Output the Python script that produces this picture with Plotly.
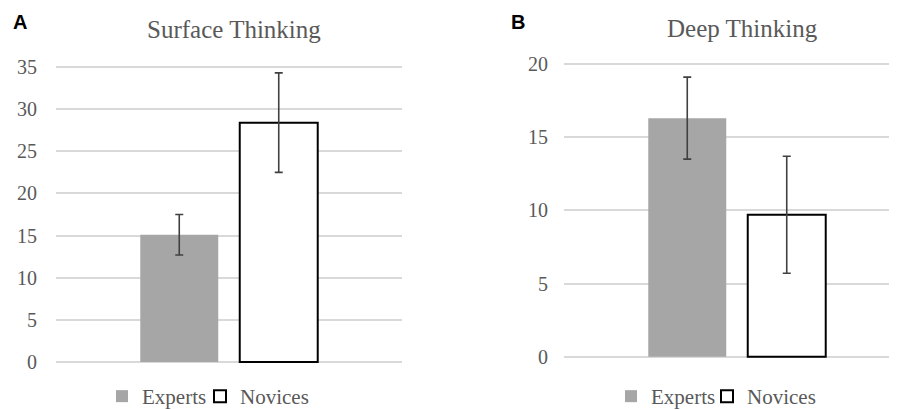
import plotly.graph_objects as go

groups = ["Experts", "Novices"]
surface_means = [15.1, 28.4]
surface_err = [2.4, 5.9]
deep_means = [16.3, 9.7]
deep_err = [2.8, 4.0]
surface_ticks = [0, 5, 10, 15, 20, 25, 30, 35]
deep_ticks = [0, 5, 10, 15, 20]

# the page body adds an 8px offset, so the figure is drawn 8px smaller
OFF = 8
W, H = 897 - OFF, 410 - OFF
FONT = "Liberation Serif"
TXT = "#595959"
fills = ["#a6a6a6", "#ffffff"]
lines = ["#a6a6a6", "#000000"]

def label(name):
    return '<span style="font-family:\'Liberation Serif\', \'Times New Roman\', serif">%s</span>' % name

fig = go.Figure()
for i, g in enumerate(groups):
    fig.add_trace(go.Bar(
        x=[0], y=[surface_means[i]], name=label(g), xaxis="x", yaxis="y",
        marker=dict(color=fills[i], line=dict(color=lines[i], width=2 if i else 0)),
        error_y=dict(type="data", array=[surface_err[i]], color="#404040", thickness=1.6, width=4),
        legend="legend" if i == 0 else "legend2", offsetgroup=str(i)))
for i, g in enumerate(groups):
    fig.add_trace(go.Bar(
        x=[0], y=[deep_means[i]], name=label(g), xaxis="x2", yaxis="y2",
        marker=dict(color=fills[i], line=dict(color=lines[i], width=2 if i else 0)),
        error_y=dict(type="data", array=[deep_err[i]], color="#404040", thickness=1.6, width=4),
        legend="legend3" if i == 0 else "legend4", offsetgroup=str(i)))

def px_x(p):
    return (p - OFF) / W

def px_y(p):
    return (H - (p - OFF)) / H

# panel A: 0 at y=362, 35 at y=67
sa = (362 - 67) / 35.0
ra = [-0.3, 35.5]
dom_a = [px_y(362 - ra[0] * sa), px_y(362 - ra[1] * sa)]
# panel B: 0 at y=356.7, 20 at y=64
sb = (356.7 - 64) / 20.0
rb = [-0.2, 20.3]
dom_b = [px_y(356.7 - rb[0] * sb), px_y(356.7 - rb[1] * sb)]

plot_w = 346.0
xb_left = 564.0
xb_range = [-0.5, -0.5 + (897 - xb_left) / plot_w]

axis_common = dict(showline=False, zeroline=False, showgrid=True, gridcolor="#d9d9d9", gridwidth=1.5,
                   tickfont=dict(family=FONT, size=20, color=TXT), fixedrange=True, automargin=False)

legend_common = dict(orientation="h", xanchor="left", y=px_y(396.5), yanchor="middle",
                     font=dict(family=FONT, size=21, color=TXT), bgcolor="rgba(0,0,0,0)")

fig.update_layout(
    width=W, height=H,
    margin=dict(l=0, r=0, t=0, b=0, autoexpand=False),
    font=dict(family=FONT, color=TXT),
    paper_bgcolor="white", plot_bgcolor="white",
    barmode="group", bargap=0.425, bargroupgap=0.216,
    showlegend=True,
    xaxis=dict(domain=[px_x(56), px_x(402)], range=[-0.5, 0.5], showticklabels=False,
               showgrid=False, zeroline=False, showline=False, fixedrange=True),
    xaxis2=dict(domain=[px_x(xb_left), 1.0], range=xb_range, showticklabels=False,
                showgrid=False, zeroline=False, showline=False, fixedrange=True),
    yaxis=dict(domain=dom_a, range=ra, tickvals=surface_ticks, anchor="x", ticklabelstandoff=18, **axis_common),
    yaxis2=dict(domain=dom_b, range=rb, tickvals=deep_ticks, anchor="x2", ticklabelstandoff=15, **axis_common),
    legend=dict(x=px_x(142 - 40), **legend_common),
    legend2=dict(x=px_x(240 - 40), **legend_common),
    legend3=dict(x=px_x(651 - 40), **legend_common),
    legend4=dict(x=px_x(747 - 40), **legend_common),
    annotations=[
        dict(text="Surface Thinking", x=px_x(234), y=px_y(29.5), xref="paper", yref="paper",
             xanchor="center", yanchor="middle",
             showarrow=False, font=dict(family=FONT, size=25, color=TXT)),
        dict(text="Deep Thinking", x=px_x(742.5), y=px_y(28), xref="paper", yref="paper",
             xanchor="center", yanchor="middle",
             showarrow=False, font=dict(family=FONT, size=25, color=TXT)),
        dict(text="<b>A</b>", x=px_x(19.5), y=px_y(22), xref="paper", yref="paper",
             xanchor="center", yanchor="middle",
             showarrow=False, font=dict(family="Liberation Sans", size=20, color="#000000")),
        dict(text="<b>B</b>", x=px_x(518), y=px_y(22), xref="paper", yref="paper",
             xanchor="center", yanchor="middle",
             showarrow=False, font=dict(family="Liberation Sans", size=20, color="#000000")),
    ],
)

fig.write_html("out.html")
